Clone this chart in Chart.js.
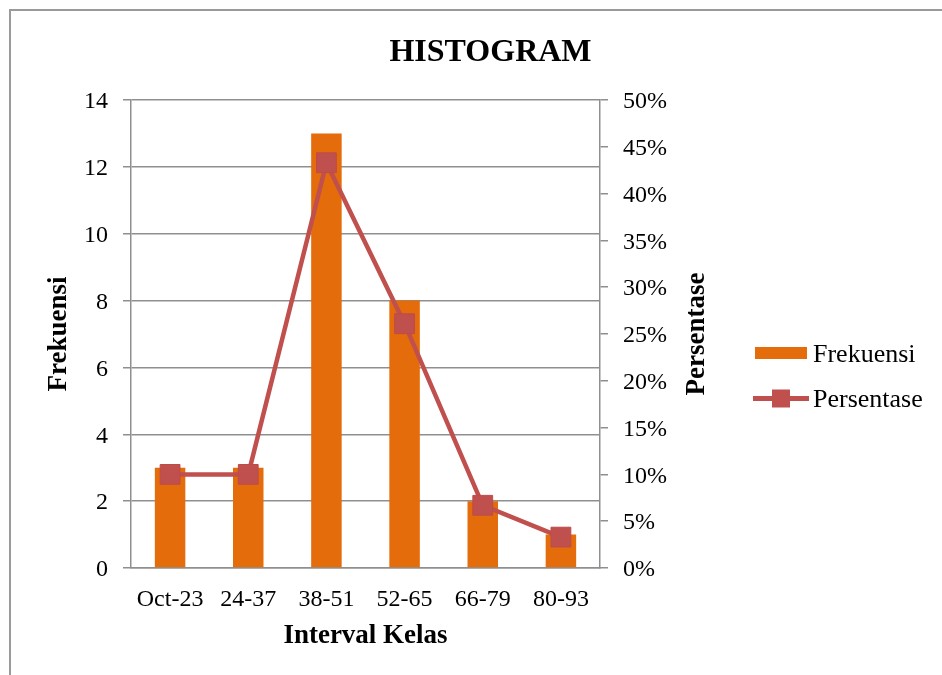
<!DOCTYPE html>
<html>
<head>
<meta charset="utf-8">
<script src="https://cdn.jsdelivr.net/npm/chart.js@4/dist/chart.umd.min.js"></script>
<style>
  html, body { margin: 0; padding: 0; background: #ffffff; }
  #wrap { position: relative; width: 942px; height: 675px; overflow: hidden; }
  #frame { position: absolute; left: 9px; top: 9px; width: 1000px; height: 1000px;
           border-left: 2px solid #9a9a9a; border-top: 2px solid #9a9a9a; box-sizing: border-box; }
  #c { position: absolute; left: 0; top: 0; }
</style>
</head>
<body>
<div id="wrap">
  <div id="frame"></div>
  <canvas id="c" width="942" height="675"></canvas>
</div>
<script>
// Frequency distribution by class interval
const categories = ['Oct-23', '24-37', '38-51', '52-65', '66-79', '80-93'];
const frekuensi = [3, 3, 13, 8, 2, 1];
const persentase = [10, 10, 43.3, 26.1, 6.7, 3.3];

const chartTitle = 'HISTOGRAM';
const xTitle = 'Interval Kelas';
const yLeftTitle = 'Frekuensi';
const yRightTitle = 'Persentase';
const leftTicks = [0, 2, 4, 6, 8, 10, 12, 14];
const rightTicks = [0, 5, 10, 15, 20, 25, 30, 35, 40, 45, 50];

const SERIF = '"Liberation Serif", "Times New Roman", serif';
const ORANGE = '#E46C0A';
const RED = '#C0504D';
const GRID = '#8f8f8f';

// Title, right-hand axis title and legend
const decor = {
  id: 'decor',
  afterDraw(chart) {
    const ctx = chart.ctx;
    const area = chart.chartArea;
    const midY = (area.top + area.bottom) / 2;
    ctx.save();
    ctx.fillStyle = '#000';

    ctx.font = 'bold 32px ' + SERIF;
    ctx.textAlign = 'center';
    ctx.textBaseline = 'middle';
    ctx.fillText(chartTitle, 490.5, 53);

    ctx.save();
    ctx.translate(chart.scales.y1.left + 97, midY);
    ctx.rotate(-Math.PI / 2);
    ctx.font = 'bold 27px ' + SERIF;
    ctx.fillText(yRightTitle, 0, 0);
    ctx.restore();

    // legend
    const ds = chart.data.datasets;
    ctx.font = '26px ' + SERIF;
    ctx.textAlign = 'left';
    ctx.fillStyle = ORANGE;
    ctx.fillRect(755, 347, 52, 12);
    ctx.fillStyle = '#000';
    ctx.fillText(ds[0].label, 813, 355.5);

    ctx.strokeStyle = RED;
    ctx.lineWidth = 5;
    ctx.beginPath();
    ctx.moveTo(753, 398.5);
    ctx.lineTo(809, 398.5);
    ctx.stroke();
    ctx.fillStyle = RED;
    ctx.fillRect(772, 389.5, 18, 18);
    ctx.fillStyle = '#000';
    ctx.fillText(ds[1].label, 813, 400);
    ctx.restore();
  }
};

new Chart(document.getElementById('c'), {
  type: 'bar',
  data: {
    labels: categories,
    datasets: [
      {
        type: 'bar',
        label: 'Frekuensi',
        data: frekuensi,
        backgroundColor: ORANGE,
        borderWidth: 0,
        barPercentage: 0.39,
        categoryPercentage: 1,
        yAxisID: 'y',
        order: 2
      },
      {
        type: 'line',
        label: 'Persentase',
        data: persentase,
        borderColor: RED,
        borderWidth: 4.5,
        backgroundColor: RED,
        pointStyle: 'rect',
        pointRadius: 14,
        pointBackgroundColor: RED,
        pointBorderColor: '#bd4c49',
        pointBorderWidth: 1,
        tension: 0,
        yAxisID: 'y1',
        order: 1
      }
    ]
  },
  options: {
    responsive: false,
    animation: false,
    devicePixelRatio: 1,
    layout: { padding: { top: 100, left: 0, right: 0, bottom: 0 } },
    plugins: {
      legend: { display: false },
      title: { display: false },
      tooltip: { enabled: false }
    },
    scales: {
      x: {
        type: 'category',
        offset: true,
        grid: { display: false, drawTicks: false },
        border: { display: true, color: GRID, width: 1.5 },
        ticks: { color: '#000', font: { family: SERIF, size: 24 }, padding: 17, maxRotation: 0, autoSkip: false },
        title: { display: true, text: xTitle, color: '#000', font: { family: SERIF, size: 27, weight: 'bold' }, padding: { top: 0, bottom: 23.2 } },
        afterFit(s) { s.height = 107; }
      },
      y: {
        position: 'left',
        min: 0,
        max: 14,
        afterBuildTicks(s) { s.ticks = leftTicks.map(v => ({ value: v })); },
        grid: { color: GRID, lineWidth: 1.5, drawTicks: true, tickLength: 8 },
        border: { display: true, color: GRID, width: 1.5 },
        ticks: { color: '#000', font: { family: SERIF, size: 24 }, padding: 15, labelOffset: 2 },
        title: { display: true, text: yLeftTitle, color: '#000', font: { family: SERIF, size: 27, weight: 'bold' }, padding: { top: 43, bottom: 0 } },
        afterFit(s) { s.width = 131; }
      },
      y1: {
        position: 'right',
        min: 0,
        max: 50,
        afterBuildTicks(s) { s.ticks = rightTicks.map(v => ({ value: v })); },
        grid: { color: GRID, lineWidth: 1.5, drawOnChartArea: false, drawTicks: true, tickLength: 8 },
        border: { display: true, color: GRID, width: 1.5 },
        ticks: { color: '#000', font: { family: SERIF, size: 24 }, padding: 15, labelOffset: 2, callback: v => v + '%' },
        afterFit(s) { s.width = 342; }
      }
    }
  },
  plugins: [decor]
});
</script>
</body>
</html>
